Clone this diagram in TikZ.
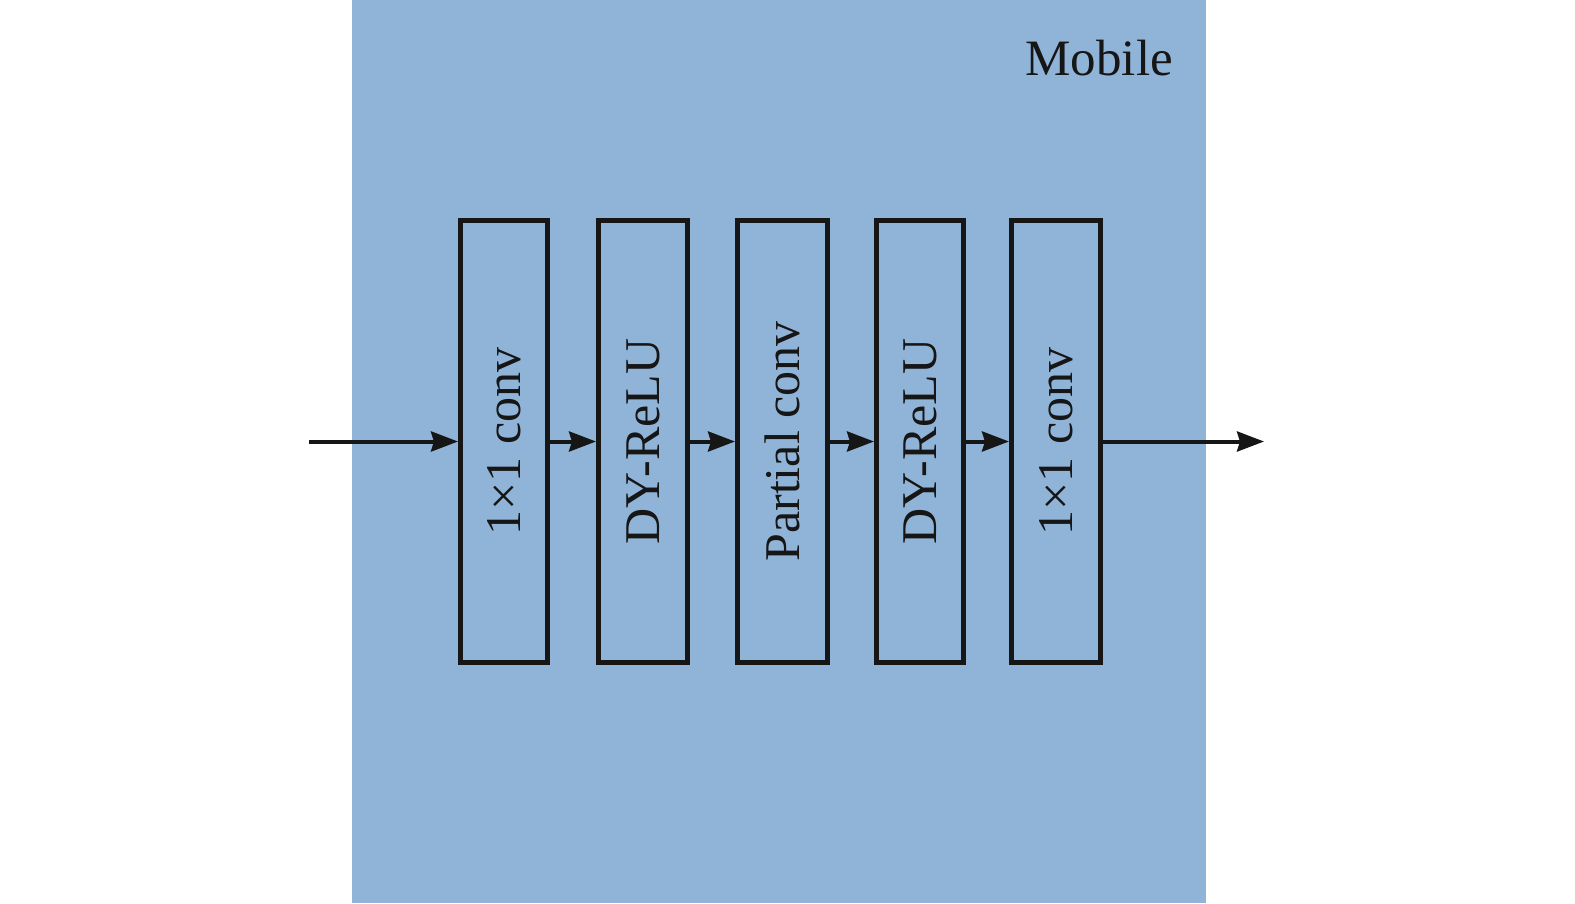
\documentclass[tikz,border=0pt]{standalone}
\usepackage{fontspec}
\setmainfont{Liberation Serif}
\usetikzlibrary{arrows.meta}
\definecolor{panelblue}{RGB}{144,180,215}
\definecolor{ink}{RGB}{22,22,22}
\tikzset{
  blockbox/.style={draw=ink, line width=5pt, inner sep=0pt, minimum height=442pt, font=\fontsize{50}{50}\selectfont, text=ink},
  flow/.style={draw=ink, line width=4pt, -{Stealth[length=27pt,width=20pt,inset=3pt]}},
}
\begin{document}
\begin{tikzpicture}[x=1pt,y=-1pt]
\useasboundingbox (0,0) rectangle (1575,903);
\fill[white] (0,0) rectangle (1575,903);
\fill[panelblue] (352,0) rectangle (1206,903);
\node[anchor=base east, font=\fontsize{51}{51}\selectfont, text=ink, inner sep=0pt] (title) at (1173,75) {Mobile};
\node[blockbox, minimum width=87pt] (b1) at (504,441.5) {\rotatebox{90}{1×1 conv}};
\node[blockbox, minimum width=89pt] (b2) at (643,441.5) {\rotatebox{90}{DY-ReLU}};
\node[blockbox, minimum width=90pt] (b3) at (782.5,441.5) {\rotatebox{90}{Partial conv}};
\node[blockbox, minimum width=87pt] (b4) at (920,441.5) {\rotatebox{90}{DY-ReLU}};
\node[blockbox, minimum width=89pt] (b5) at (1056,441.5) {\rotatebox{90}{1×1 conv}};
\coordinate (in) at (309,441.5);
\coordinate (out) at (1264,441.5);
\draw[flow] (in) -- (b1.west);
\draw[flow] (b1.east) -- (b2.west);
\draw[flow] (b2.east) -- (b3.west);
\draw[flow] (b3.east) -- (b4.west);
\draw[flow] (b4.east) -- (b5.west);
\draw[flow] (b5.east) -- (out);
\end{tikzpicture}
\end{document}
